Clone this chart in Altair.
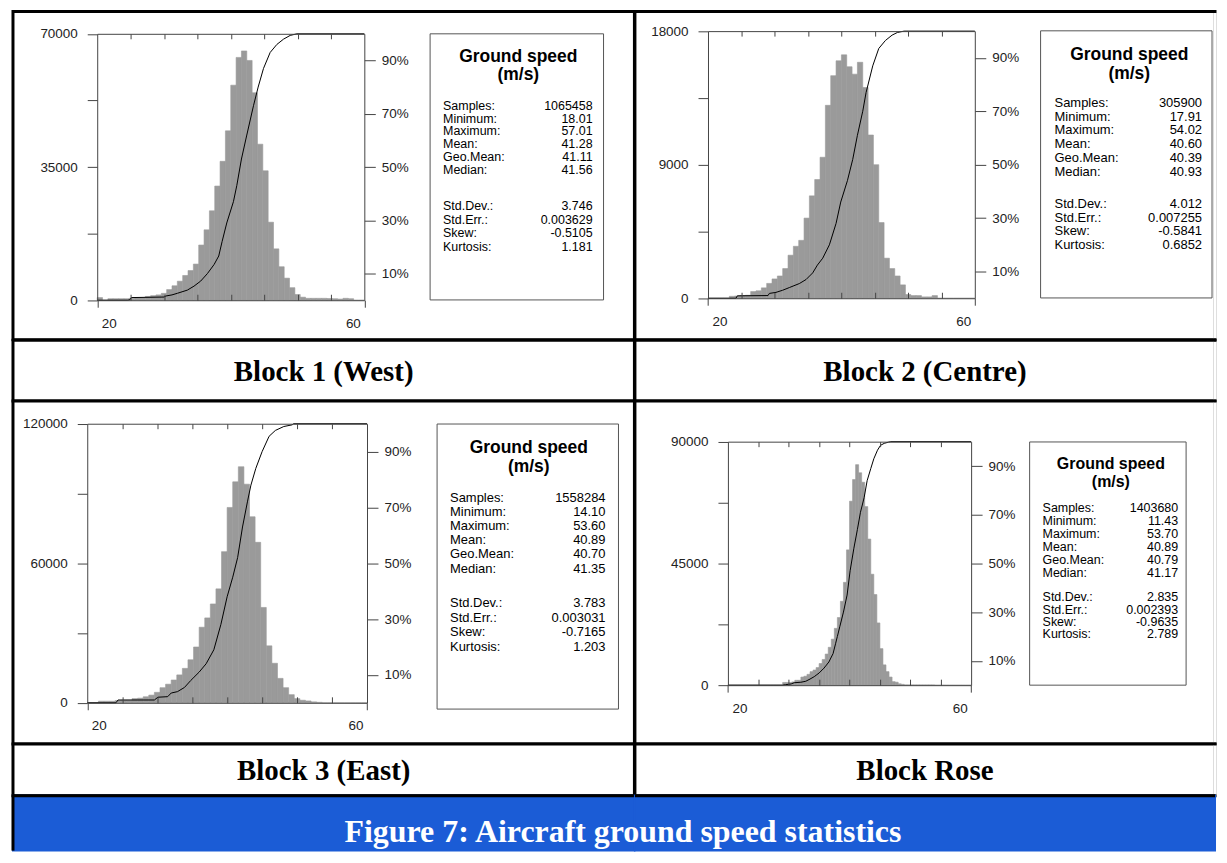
import altair as alt
import pandas as pd

SANS = "Liberation Sans"
SERIF = "Liberation Serif"
BLUE = "#1b5cd6"
BAR_GREY = "#9a9a9a"
AXIS_GREY = "#444444"

# ---------------- data ----------------
block_titles = ["Block 1 (West)", "Block 2 (Centre)", "Block 3 (East)", "Block Rose"]
caption = "Figure 7: Aircraft ground speed statistics"
box_heading = ["Ground speed", "(m/s)"]

x_domain = [20, 60]
x_outer_ticks = [20, 60]
x_inner_ticks = [25, 30, 35, 40, 45, 50, 55]
pct_ticks = [10, 30, 50, 70, 90]
y_max = [70000, 18000, 120000, 90000]
bin_start = 20
bin_width = [0.8, 0.8, 0.8, 0.5]

counts_1 = [700, 0, 400, 400, 400, 400, 500, 600, 700, 1000,
            1200, 1400, 1800, 2800, 3800, 5000, 6500, 7800, 9500, 14500,
            18500, 23500, 30000, 36500, 44500, 56500, 63800, 65500, 63000, 54500,
            41000, 34000, 20500, 13500, 8800, 5800, 3300, 1500, 800, 500,
            500, 500, 500, 450, 400, 300, 500, 400, 0, 0]
counts_2 = [0, 0, 0, 0, 130, 150, 180, 200, 450, 500,
            700, 1000, 1300, 1500, 2000, 2900, 3500, 3900, 5400, 6900,
            8000, 9500, 13000, 15000, 16000, 16400, 15600, 15100, 15900, 14200,
            11000, 9000, 5100, 2700, 2000, 1500, 900, 250, 180, 180,
            90, 90, 180, 0, 0, 0, 0, 0, 0, 0]
counts_3 = [0, 0, 700, 700, 700, 1000, 1100, 1100, 1800, 2000,
            2600, 3300, 4500, 6500, 8000, 9800, 12000, 14800, 18500, 24000,
            32500, 36500, 42500, 49000, 65000, 84000, 95000, 101500, 94000, 80000,
            69000, 41000, 24500, 17000, 10500, 6500, 3500, 1800, 1100, 800,
            400, 200, 0, 0, 0, 0, 0, 0, 0, 0]
counts_4 = [0, 0, 0, 0, 0, 0, 0, 0, 0, 0,
            0, 0, 0, 0, 0, 0, 0, 0, 1000, 1000,
            1000, 1200, 1800, 1800, 3000, 3300, 4000, 5000, 5600, 6500,
            8000, 9500, 11500, 14000, 17000, 21000, 25000, 31000, 38000, 50000,
            68000, 76000, 81500, 78500, 75000, 66000, 54000, 41000, 33500, 23000,
            13500, 7500, 5000, 3000, 1300, 1100, 500, 300, 100, 100,
            100, 100, 100, 100, 100, 100, 100, 100, 0, 0,
            0, 0, 0, 0, 0, 0, 0, 0, 0, 0]

cum_x_1 = [20.0, 24.6, 24.9, 25.1, 30.0, 30.3, 31.2, 32.0, 33.5, 34.5,
           35.5, 36.5, 37.5, 38.2, 38.7, 39.4, 40.4, 40.9, 41.6, 42.4,
           43.4, 44.1, 44.9, 45.9, 46.9, 47.9, 48.9, 49.9, 60.0]
cum_p_1 = [0, 0, 0.2, 1.0, 1.2, 1.6, 2.0, 2.6, 3.8, 5.3,
           7.2, 10.0, 13.4, 16.6, 22, 29, 37, 43, 53, 62,
           73, 80, 87, 93, 96, 98, 99.4, 100, 100]
cum_x_2 = [20.0, 24.2, 24.4, 29.0, 29.2, 30.2, 31.2, 32.2, 33.7, 34.7,
           35.7, 36.4, 37.2, 38.2, 39.2, 39.9, 40.9, 41.7, 42.4, 43.2,
           43.7, 44.7, 45.6, 46.6, 47.6, 48.4, 49.4, 60.0]
cum_p_2 = [0, 0, 0.9, 1.0, 1.8, 2.2, 3.0, 4.0, 5.5, 7.0,
           9.5, 12.4, 15, 20, 28, 36, 44, 52, 61, 70,
           77, 87, 93.5, 96.5, 98.5, 99.5, 100, 100]
cum_x_3 = [20.0, 24.1, 24.4, 29.6, 30.1, 31.5, 32.0, 32.9, 33.9, 34.8,
           36.0, 37.0, 38.1, 39.1, 40.0, 40.8, 41.5, 42.2, 42.9, 43.4,
           44.1, 45.0, 46.0, 46.9, 48.1, 49.3, 49.5, 60.0]
cum_p_3 = [0, 0, 1.0, 1.0, 2.0, 2.2, 3.5, 4.0, 5.5, 8.0,
           11, 14, 19, 28, 38, 45, 52, 63, 72, 78,
           84, 90, 95.5, 97.6, 99.0, 99.6, 100, 100]
cum_x_4 = [20.0, 29.0, 29.5, 30.4, 30.9, 32.0, 32.8, 33.5, 34.2, 35.0,
           35.8, 36.6, 37.3, 37.7, 38.0, 38.4, 39.0, 39.6, 40.1, 40.7,
           41.3, 41.8, 42.4, 42.9, 43.5, 44.0, 44.6, 45.1, 45.7, 46.4,
           46.8, 60.0]
cum_p_4 = [0, 0, 0.2, 0.5, 1.0, 1.2, 1.6, 2.5, 3.5, 5.0,
           7.0, 9.5, 13, 17, 20, 24, 30, 37, 47, 56,
           64, 71, 77, 84, 89, 93, 96.5, 98.5, 99.3, 99.8,
           100, 100]

stat_labels_a = ["Samples:", "Minimum:", "Maximum:", "Mean:", "Geo.Mean:", "Median:"]
stat_labels_b = ["Std.Dev.:", "Std.Err.:", "Skew:", "Kurtosis:"]
stats_1a = ["1065458", "18.01", "57.01", "41.28", "41.11", "41.56"]
stats_1b = ["3.746", "0.003629", "-0.5105", "1.181"]
stats_2a = ["305900", "17.91", "54.02", "40.60", "40.39", "40.93"]
stats_2b = ["4.012", "0.007255", "-0.5841", "0.6852"]
stats_3a = ["1558284", "14.10", "53.60", "40.89", "40.70", "41.35"]
stats_3b = ["3.783", "0.003031", "-0.7165", "1.203"]
stats_4a = ["1403680", "11.43", "53.70", "40.89", "40.79", "41.17"]
stats_4b = ["2.835", "0.002393", "-0.9635", "2.789"]

counts = [counts_1, counts_2, counts_3, counts_4]
cum_x = [cum_x_1, cum_x_2, cum_x_3, cum_x_4]
cum_p = [cum_p_1, cum_p_2, cum_p_3, cum_p_4]
stats_a = [stats_1a, stats_2a, stats_3a, stats_4a]
stats_b = [stats_1b, stats_2b, stats_3b, stats_4b]

# ---------------- layout (pixels inside each cell) ----------------
COL_W = [623.5, 582]
geo = [
    dict(W=COL_W[0], H=329.5, plot=(84.5, 352.5, 22.5, 289.8), box=(418.5, 592.5, 22.5, 289.5),
         head_x=507, head_y=(45.5, 63.5), head_fs=17.5, lab_x=431.5, val_x=581.5,
         rows_a=(94.5, 13.0), rows_b=(195.5, 13.6), fs=12.5),
    dict(W=COL_W[1], H=329.5, plot=(73.3, 341.0, 19.8, 287.8), box=(407, 579, 19.5, 287.5),
         head_x=496, head_y=(43.5, 62.5), head_fs=17.5, lab_x=421, val_x=569,
         rows_a=(91.5, 14.0), rows_b=(193.5, 13.5), fs=13),
    dict(W=COL_W[0], H=344, plot=(74.5, 355.2, 22.7, 302.7), box=(425.5, 607.5, 23, 309),
         head_x=517.5, head_y=(47.5, 66.5), head_fs=17.5, lab_x=438.5, val_x=594.5,
         rows_a=(97, 14.2), rows_b=(203, 14.5), fs=13),
    dict(W=COL_W[1], H=344, plot=(93.3, 337.3, 40.7, 285.0), box=(396, 553, 41, 285),
         head_x=477.5, head_y=(63.5, 81.5), head_fs=16, lab_x=409, val_x=545,
         rows_a=(107, 13.0), rows_b=(197, 12.3), fs=12.5),
]
title_heights = [61, 52]
title_text_y = [32, 27]
TITLE_FS = 29
CAPTION_FS = 32
footer_height = 55
footer_text_y = 36
caption_x_in_right = -12   # caption centre, relative to the right footer cell

one_row = pd.DataFrame({"k": [0]})

axis_common = dict(grid=False, title=None, labelFont=SANS, labelFontSize=13.5, labelColor="#222222",
                   domainColor=AXIS_GREY, tickColor=AXIS_GREY, domainWidth=1, tickWidth=1,
                   zindex=1, labelOverlap=False)


def border(fill="white", stroke="black"):
    return alt.ViewBackground(stroke=stroke, strokeWidth=3, fill=fill)


def vrule(x, y0, y1, color, width):
    return alt.Chart(one_row).mark_rule(color=color, strokeWidth=width).encode(
        x=alt.value(x), y=alt.value(y0), y2=alt.value(y1))


def hrule(y, x0, x1, color, width):
    return alt.Chart(one_row).mark_rule(color=color, strokeWidth=width).encode(
        y=alt.value(y), x=alt.value(x0), x2=alt.value(x1))


def hist_cell(i, right_col):
    g = geo[i]
    W, H = g["W"], g["H"]
    L, R, T, B = g["plot"]
    ymax = y_max[i]
    bw = bin_width[i]
    n = len(counts[i])
    df_bins = pd.DataFrame({
        "x0": [bin_start + bw * k for k in range(n)],
        "x1": [bin_start + bw * (k + 1) for k in range(n)],
        "count": counts[i],
    })
    df_cum = pd.DataFrame({"speed": cum_x[i], "pct": cum_p[i]})

    xs = alt.Scale(domain=x_domain, range=[L, R], nice=False, zero=False)
    ys = alt.Scale(domain=[0, ymax], range=[B, T], nice=False, zero=False)
    ps = alt.Scale(domain=[0, 100], range=[B, T], nice=False, zero=False)

    q = ymax // 4
    bars = alt.Chart(df_bins).mark_rect(color=BAR_GREY, stroke=BAR_GREY, strokeWidth=0.6).encode(
        x=alt.X("x0:Q", scale=xs, axis=alt.Axis(
            orient="bottom", offset=B - H, values=x_outer_ticks, format="d",
            tickSize=7, labelPadding=9, labelFlush=True, labelFlushOffset=-4, **axis_common)),
        x2="x1:Q",
        y=alt.Y("count:Q", scale=ys, axis=alt.Axis(
            orient="left", offset=-L, values=[0, q, 2 * q, 3 * q, 4 * q], format="d",
            labelExpr=f"datum.value % {2 * q} == 0 ? datum.label : ''",
            tickSize=10, labelPadding=10, **axis_common)),
        y2=alt.datum(0),
    )
    line = alt.Chart(df_cum).mark_line(color="black", strokeWidth=1).encode(
        x=alt.X("speed:Q", scale=xs, axis=alt.Axis(
            orient="bottom", offset=T - H, values=x_inner_ticks, labels=False,
            tickSize=5, **axis_common)),
        y=alt.Y("pct:Q", scale=ps, axis=alt.Axis(
            orient="right", offset=R - W, values=pct_ticks,
            labelExpr="datum.value + '%'", tickSize=11, labelPadding=6, **axis_common)),
    )
    inner = alt.Chart(df_cum).mark_line(opacity=0).encode(
        x=alt.X("speed:Q", scale=xs, axis=alt.Axis(
            orient="top", offset=-B, values=x_inner_ticks, labels=False, domain=False,
            tickSize=6, **axis_common)),
        y=alt.Y("pct:Q", scale=ps, axis=None),
    )

    bx0, bx1, by0, by1 = g["box"]
    box = alt.Chart(one_row).mark_rect(fill="white", stroke="#555555", strokeWidth=1).encode(
        x=alt.value(bx0), x2=alt.value(bx1), y=alt.value(by0), y2=alt.value(by1))

    heads = []
    for j, txt in enumerate(box_heading):
        heads.append(alt.Chart(one_row).mark_text(
            font=SANS, fontSize=g["head_fs"], fontWeight="bold", color="black",
            align="center", baseline="middle").encode(
            x=alt.value(g["head_x"]), y=alt.value(g["head_y"][j]), text=alt.value(txt)))

    def rows(labels, values, spec):
        y0, step = spec
        return pd.DataFrame({"label": labels, "value": values,
                             "ypx": [y0 + step * k for k in range(len(labels))]})

    layers = [bars, line, inner, box] + heads
    for labels, values, spec in [(stat_labels_a, stats_a[i], g["rows_a"]),
                                 (stat_labels_b, stats_b[i], g["rows_b"])]:
        d = rows(labels, values, spec)
        layers.append(alt.Chart(d).mark_text(
            font=SANS, fontSize=g["fs"], color="black", align="left", baseline="middle").encode(
            x=alt.value(g["lab_x"]), y=alt.Y("ypx:Q", scale=None, axis=None), text="label:N"))
        layers.append(alt.Chart(d).mark_text(
            font=SANS, fontSize=g["fs"], color="black", align="right", baseline="middle").encode(
            x=alt.value(g["val_x"]), y=alt.Y("ypx:Q", scale=None, axis=None), text="value:N"))
    if right_col:
        layers.append(vrule(W, 1.5, H - 1.5, "white", 3.5))

    return alt.layer(*layers).resolve_scale(y="independent").resolve_axis(
        x="independent", y="independent").properties(width=W, height=H, view=border())


def title_cell(text, W, H, ty, right_col):
    layers = [alt.Chart(one_row).mark_text(
        font=SERIF, fontSize=TITLE_FS, fontWeight="bold", color="black",
        align="center", baseline="middle").encode(
        x=alt.value(W / 2), y=alt.value(ty), text=alt.value(text))]
    if right_col:
        layers.append(vrule(W, 1.5, H - 1.5, "white", 3.5))
    return alt.layer(*layers).properties(width=W, height=H, view=border())


def footer_cell(W, H, left_col):
    layers = [hrule(0, 0, W, "black", 3)]
    if left_col:
        layers.append(vrule(0, -1.5, H, "black", 3))
    else:
        layers.append(alt.Chart(one_row).mark_text(
            font=SERIF, fontSize=CAPTION_FS, fontWeight="bold", color="white",
            align="center", baseline="middle").encode(
            x=alt.value(caption_x_in_right), y=alt.value(footer_text_y), text=alt.value(caption)))
    return alt.layer(*layers).properties(
        width=W, height=H, view=alt.ViewBackground(fill=BLUE, stroke=BLUE, strokeWidth=2))


panels = [
    hist_cell(0, False), hist_cell(1, True),
    title_cell(block_titles[0], COL_W[0], title_heights[0], title_text_y[0], False),
    title_cell(block_titles[1], COL_W[1], title_heights[0], title_text_y[0], True),
    hist_cell(2, False), hist_cell(3, True),
    title_cell(block_titles[2], COL_W[0], title_heights[1], title_text_y[1], False),
    title_cell(block_titles[3], COL_W[1], title_heights[1], title_text_y[1], True),
    footer_cell(COL_W[0], footer_height, True),
    footer_cell(COL_W[1], footer_height, False),
]

chart = alt.concat(*panels, columns=2, spacing=0, bounds="flush").properties(
    padding={"left": 2, "top": 0, "right": 0, "bottom": 0}, background="white")

chart.save("out.html", embed_options={"renderer": "svg", "actions": False})
